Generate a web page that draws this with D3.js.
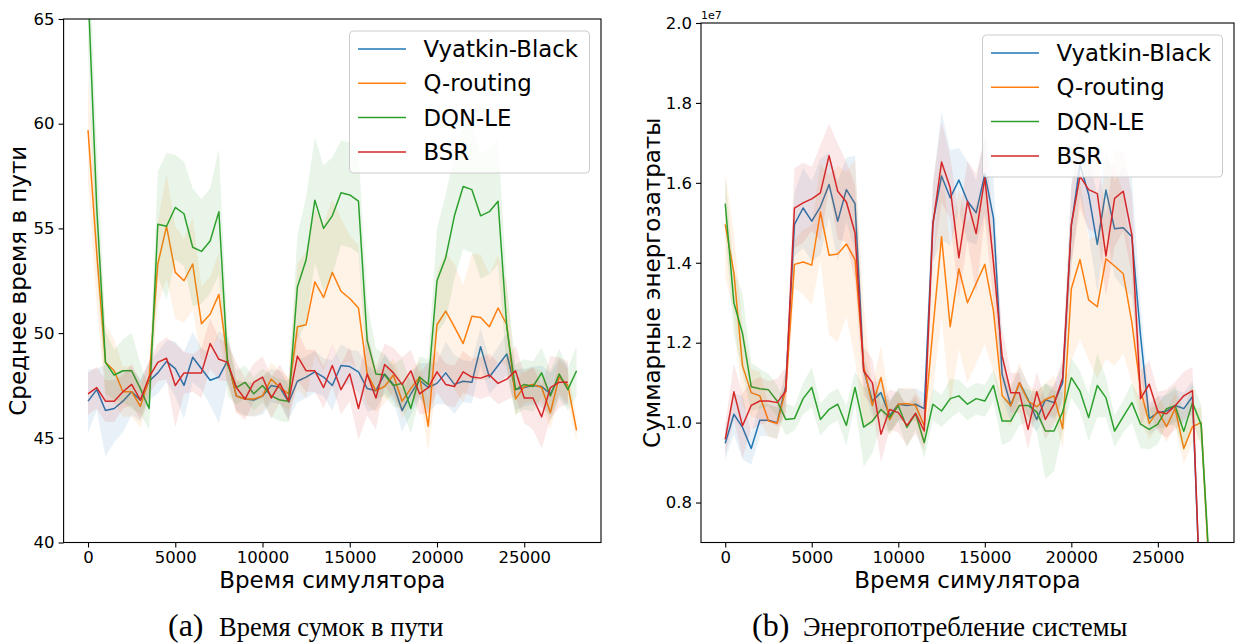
<!DOCTYPE html>
<html>
<head>
<meta charset="utf-8">
<script src="https://cdn.jsdelivr.net/npm/d3@7"></script>
<style>
  body { margin: 0; background: #fff; }
  text { font-family: "DejaVu Sans", sans-serif; }
</style>
</head>
<body>
<div id="chart"></div>
<script>

// simulator time (x values)
var simTime = [0,500,1000,1500,2000,2500,3000,3500,4000,4500,5000,5500,6000,6500,7000,7500,8000,8500,9000,9500,
  10000,10500,11000,11500,12000,12500,13000,13500,14000,14500,15000,15500,16000,16500,17000,17500,18000,18500,19000,19500,
  20000,20500,21000,21500,22000,22500,23000,23500,24000,24500,25000,25500,26000,26500,27000,27500,28000];

var names = ["Vyatkin-Black", "Q-routing", "DQN-LE", "BSR"];
var colors = ["#1f77b4", "#ff7f0e", "#2ca02c", "#d62728"];

var xTicks = [0, 5000, 10000, 15000, 20000, 25000];
var yTicksA = [40, 45, 50, 55, 60, 65];
var yTicksB = [0.8, 1.0, 1.2, 1.4, 1.6, 1.8, 2.0];

// (a) mean time in path
var blueA = [46.75,47.3,46.3,46.4,46.75,47.2,46.8,47.7,48.1,48.65,48.3,47.5,48.85,48.3,47.75,47.9,48.7,47.0,46.85,46.8,
  47.0,47.5,47.4,46.7,47.7,47.9,48.15,47.9,47.5,48.45,48.4,48.15,47.35,47.25,48.05,47.55,46.3,47.1,47.75,47.4,
  47.6,48.1,47.55,47.7,47.65,49.35,47.9,48.45,49.0,47.3,47.4,47.5,47.45,47.1,47.9,47.5];
var orangeA = [59.7,53.8,48.6,48.2,47.2,47.2,46.5,47.8,53.3,55.1,52.9,52.5,53.3,50.45,50.9,51.85,48.7,47.0,46.85,46.85,
  47.0,47.8,47.4,47.1,50.3,50.4,52.45,51.7,52.9,52.0,51.65,51.2,48.05,47.25,47.45,48.0,46.75,47.35,47.9,45.55,
  50.4,51.05,50.3,49.5,50.8,50.75,50.3,51.2,50.4,46.85,47.45,47.55,47.4,46.2,47.9,47.5,45.35];
var greenA = [66.5,56.0,48.6,48.0,48.2,48.2,47.35,46.4,55.2,55.1,56.0,55.7,54.1,53.9,54.4,55.8,48.5,47.4,47.65,47.1,
  47.5,47.0,46.8,46.75,52.2,53.5,56.35,55.0,55.6,56.7,56.6,56.3,49.65,48.05,48.0,47.5,47.6,46.4,47.9,47.55,
  52.5,53.6,55.6,57.0,56.85,55.6,55.8,56.3,50.3,47.3,47.55,47.45,48.1,47.0,48.05,47.3,48.2];
var redA = [47.1,47.4,46.75,46.75,47.2,47.55,46.8,47.9,48.6,48.8,47.5,48.1,48.1,48.1,49.5,48.75,48.6,47.4,46.85,47.65,
  47.9,46.9,47.6,46.75,48.9,48.2,48.2,47.4,48.45,47.3,48.05,46.4,48.05,46.9,48.5,48.1,47.55,48.2,47.1,47.4,
  48.15,47.55,47.45,48.15,47.9,47.85,48.0,47.6,47.8,48.2,46.9,46.9,46.0,47.4,47.65,47.65];

// (a) spread of the runs
var blueSdA = [1.5,1.0,2.2,1.6,1.5,1.1,1.0,0.9,1.0,1.0,1.3,1.6,1.2,1.0,1.2,2.2,1.1,0.7,0.8,0.8,
  0.9,0.8,0.8,0.8,1.0,1.0,1.0,0.9,1.2,1.0,0.8,1.0,1.1,0.9,0.9,0.8,1.0,1.0,0.8,1.2,
  1.0,1.5,1.4,1.0,1.0,0.9,0.8,0.9,1.0,1.0,0.9,0.9,1.0,1.0,0.9,1.0];
var orangeSdA = [2.5,2.5,1.8,1.5,1.2,1.2,1.0,0.8,2.0,2.5,2.2,2.0,2.2,1.8,1.8,2.0,1.2,0.8,0.8,0.8,
  0.8,0.8,0.8,0.8,3.0,3.5,3.5,3.5,3.5,3.5,3.0,3.0,1.5,1.0,0.8,0.8,0.8,0.8,0.8,1.2,
  2.5,2.8,3.0,2.8,3.0,3.0,2.5,2.5,2.0,0.8,0.8,0.8,0.8,0.8,0.8,0.8,0.5];
var greenSdA = [3.0,3.0,1.5,1.2,1.5,1.8,1.2,1.0,2.5,3.5,2.5,2.5,2.8,2.5,2.5,3.0,1.5,0.8,0.8,0.8,
  0.8,1.0,1.0,1.0,2.5,3.0,3.0,3.0,2.8,2.5,2.5,2.5,1.8,1.2,1.0,1.0,1.2,1.2,1.0,1.2,
  2.5,3.0,3.0,3.0,3.0,3.0,3.0,3.0,2.0,1.2,1.2,1.2,1.2,1.2,1.2,1.0,1.2];
var redSdA = [1.0,1.0,1.0,1.0,0.8,1.0,0.9,0.8,0.9,1.0,2.0,1.0,0.9,1.2,1.2,1.0,0.9,1.2,1.0,0.9,
  1.0,1.0,0.9,1.0,1.2,1.0,1.0,1.0,1.0,1.2,1.3,1.5,2.0,1.5,1.0,1.2,1.3,1.0,1.0,1.2,
  1.0,1.0,1.0,1.0,0.9,1.0,1.0,1.0,1.0,1.2,1.2,1.5,1.5,1.5,1.2,1.0];

// (b) total energy, x 1e7
var blueB = [0.948,1.021,0.988,0.935,1.006,1.006,1.0,1.092,1.496,1.537,1.504,1.54,1.596,1.504,1.583,1.548,1.133,1.054,1.075,1.017,
  1.046,1.043,1.046,1.035,1.5,1.617,1.5625,1.607,1.554,1.525,1.622,1.5125,1.121,1.043,1.1,1.058,1.008,1.057,1.05,1.1,
  1.492,1.646,1.571,1.446,1.582,1.485,1.4875,1.465,1.217,1.01,1.025,1.029,1.043,1.035,1.065,0.5];
var orangeB = [1.496,1.375,1.142,1.075,1.067,1.004,0.998,1.083,1.396,1.402,1.394,1.527,1.419,1.422,1.447,1.408,1.142,1.043,1.113,1.007,
  1.046,1.048,1.043,0.992,1.233,1.465,1.24,1.385,1.3,1.348,1.396,1.279,1.068,1.042,1.1,1.054,1.04,1.058,1.067,0.985,
  1.335,1.408,1.307,1.29,1.41,1.392,1.3725,1.25,1.083,0.998,1.03,0.99,1.035,0.935,0.99,1.0,0.6];
var greenB = [1.548,1.3,1.223,1.09,1.085,1.082,1.054,1.008,1.01,1.06,1.088,1.008,1.033,1.046,0.993,1.088,0.989,1.004,1.033,1.013,
  1.042,0.988,1.023,0.95,1.046,1.029,1.06,1.067,1.046,1.06,1.054,1.093,1.004,1.004,1.043,1.043,1.027,0.979,0.979,1.027,
  1.1125,1.079,1.0125,1.093,1.0625,0.979,1.015,1.05,0.996,0.983,0.996,1.035,1.042,0.978,1.05,0.995,0.62];
var redB = [0.958,1.077,0.992,1.043,1.054,1.054,1.05,1.079,1.537,1.55,1.56,1.575,1.668,1.579,1.552,1.475,1.129,1.1,0.971,1.033,
  1.025,0.993,1.023,0.979,1.496,1.652,1.5875,1.4125,1.554,1.473,1.6125,1.4,1.167,1.075,1.075,0.983,1.077,1.008,1.046,1.1125,
  1.496,1.617,1.583,1.573,1.417,1.561,1.579,1.47,1.06,1.096,1.027,1.022,1.042,1.067,1.08,0.5];

var blueSdB = [0.04,0.05,0.08,0.04,0.04,0.04,0.04,0.04,0.08,0.1,0.1,0.12,0.08,0.1,0.08,0.12,0.04,0.04,0.04,0.04,
  0.04,0.04,0.04,0.04,0.1,0.16,0.12,0.08,0.1,0.08,0.1,0.1,0.06,0.04,0.04,0.04,0.03,0.04,0.04,0.05,
  0.1,0.08,0.1,0.12,0.1,0.12,0.15,0.15,0.08,0.04,0.04,0.04,0.04,0.04,0.04,0.05];
var orangeSdB = [0.13,0.1,0.1,0.06,0.06,0.04,0.04,0.05,0.06,0.08,0.1,0.12,0.2,0.22,0.18,0.25,0.15,0.05,0.08,0.04,
  0.04,0.04,0.04,0.05,0.15,0.2,0.2,0.2,0.2,0.2,0.2,0.15,0.06,0.05,0.05,0.04,0.04,0.04,0.05,0.05,
  0.18,0.2,0.15,0.18,0.25,0.25,0.2,0.15,0.08,0.04,0.04,0.04,0.04,0.04,0.04,0.04,0.04];
var greenSdB = [0.07,0.08,0.1,0.06,0.05,0.04,0.04,0.04,0.03,0.04,0.05,0.04,0.04,0.04,0.05,0.04,0.1,0.08,0.04,0.04,
  0.04,0.05,0.04,0.04,0.04,0.04,0.05,0.04,0.04,0.04,0.04,0.04,0.06,0.05,0.05,0.04,0.05,0.12,0.1,0.05,
  0.05,0.05,0.06,0.08,0.05,0.04,0.04,0.05,0.06,0.05,0.05,0.04,0.05,0.05,0.05,0.05,0.05];
var redSdB = [0.04,0.07,0.08,0.06,0.06,0.05,0.06,0.06,0.1,0.1,0.08,0.12,0.08,0.12,0.1,0.12,0.06,0.06,0.07,0.05,
  0.05,0.05,0.05,0.05,0.1,0.1,0.08,0.1,0.1,0.15,0.1,0.1,0.07,0.05,0.05,0.05,0.05,0.05,0.05,0.05,
  0.1,0.08,0.1,0.1,0.1,0.12,0.1,0.1,0.07,0.06,0.05,0.06,0.06,0.06,0.06,0.05];

var svg = d3.select("#chart")
  .append("svg")
    .attr("width", 1237)
    .attr("height", 644);

function drawPanel(p) {
  var x = d3.scaleLinear()
    .domain([-1400, 29400])
    .range([p.left, p.right]);
  var y = d3.scaleLinear()
    .domain(p.yDomain)
    .range([p.bottom, p.top]);

  // clip the curves to the axes box
  svg.append("clipPath")
    .attr("id", p.id)
    .append("rect")
      .attr("x", p.left)
      .attr("y", p.top)
      .attr("width", p.right - p.left)
      .attr("height", p.bottom - p.top);

  var plot = svg.append("g").attr("clip-path", "url(#" + p.id + ")");

  p.means.forEach(function(m, k) {
    var sd = p.spreads[k];
    var pts = m.map(function(v, i) { return {t: simTime[i], v: v, s: sd[i] || 0}; });

    plot.append("path")
      .datum(pts)
      .attr("fill", colors[k])
      .attr("fill-opacity", 0.1)
      .attr("d", d3.area()
        .x(function(d) { return x(d.t); })
        .y0(function(d) { return y(d.v - d.s); })
        .y1(function(d) { return y(d.v + d.s); }));

    plot.append("path")
      .datum(pts)
      .attr("fill", "none")
      .attr("stroke", colors[k])
      .attr("stroke-width", 1.5)
      .attr("stroke-linejoin", "round")
      .attr("d", d3.line()
        .x(function(d) { return x(d.t); })
        .y(function(d) { return y(d.v); }));
  });

  // axes
  var gx = svg.append("g")
    .attr("transform", "translate(0," + p.bottom + ")")
    .call(d3.axisBottom(x).tickValues(xTicks).tickSize(5).tickPadding(4).tickFormat(d3.format("d")));
  var gy = svg.append("g")
    .attr("transform", "translate(" + p.left + ",0)")
    .call(d3.axisLeft(y).tickValues(p.yTicks).tickSize(5).tickPadding(4).tickFormat(p.fmt));
  [gx, gy].forEach(function(g) {
    g.select(".domain").remove();
    g.attr("font-size", 16.5).attr("font-family", "DejaVu Sans");
    g.selectAll("line").attr("stroke", "#000").attr("stroke-width", 1.1);
    g.selectAll("text").attr("fill", "#000");
  });

  // frame
  svg.append("rect")
    .attr("x", p.left)
    .attr("y", p.top)
    .attr("width", p.right - p.left)
    .attr("height", p.bottom - p.top)
    .attr("fill", "none")
    .attr("stroke", "#000")
    .attr("stroke-width", 1.1);

  // axis labels
  svg.append("text")
    .attr("x", (p.left + p.right) / 2)
    .attr("y", 588)
    .attr("text-anchor", "middle")
    .attr("font-size", 23)
    .text("Время симулятора");
  svg.append("text")
    .attr("transform", "translate(" + p.ylabelX + "," + ((p.top + p.bottom) / 2) + ")rotate(-90)")
    .attr("text-anchor", "middle")
    .attr("dy", "0.35em")
    .attr("font-size", 23)
    .text(p.ylabel);

  if (p.offset) {
    svg.append("text")
      .attr("x", p.left)
      .attr("y", p.top - 4)
      .attr("font-size", 11)
      .text(p.offset);
  }

  // legend
  var lw = 240, lh = 142;
  var lx = p.right - 11.5 - lw, ly = p.top + 12;
  var leg = svg.append("g");
  leg.append("rect")
    .attr("x", lx)
    .attr("y", ly)
    .attr("width", lw)
    .attr("height", lh)
    .attr("rx", 4)
    .attr("fill", "#fff")
    .attr("fill-opacity", 0.8)
    .attr("stroke", "#cccccc")
    .attr("stroke-width", 1);
  names.forEach(function(n, k) {
    var cy = ly + 18 + k * 34.3;
    leg.append("line")
      .attr("x1", lx + 8.5)
      .attr("x2", lx + 56.5)
      .attr("y1", cy)
      .attr("y2", cy)
      .attr("stroke", colors[k])
      .attr("stroke-width", 1.5);
    leg.append("text")
      .attr("x", lx + 74)
      .attr("y", cy)
      .attr("dy", "0.35em")
      .attr("font-size", 22.8)
      .text(n);
  });

  // caption under the panel
  svg.append("text")
    .attr("x", p.capX)
    .attr("y", 636)
    .attr("font-family", "Liberation Serif")
    .attr("font-size", 32)
    .style("font-family", "Liberation Serif, serif")
    .text(p.capTag);
  svg.append("text")
    .attr("x", p.capX + 51)
    .attr("y", 636)
    .attr("font-size", 26.5)
    .style("font-family", "Liberation Serif, serif")
    .text(p.caption);
}

drawPanel({
  id: "clipA", left: 63.6, right: 601, top: 19, bottom: 542.5,
  yDomain: [40, 65], yTicks: yTicksA, fmt: d3.format("d"),
  means: [blueA, orangeA, greenA, redA],
  spreads: [blueSdA, orangeSdA, greenSdA, redSdA],
  ylabel: "Среднее время в пути", ylabelX: 18,
  capX: 168, capTag: "(a)", caption: "Время сумок в пути"
});

drawPanel({
  id: "clipB", left: 701, right: 1234, top: 23, bottom: 542.5,
  yDomain: [0.7, 2.0], yTicks: yTicksB, fmt: d3.format(".1f"),
  means: [blueB, orangeB, greenB, redB],
  spreads: [blueSdB, orangeSdB, greenSdB, redSdB],
  ylabel: "Суммарные энергозатраты", ylabelX: 652, offset: "1e7",
  capX: 752, capTag: "(b)", caption: "Энергопотребление системы"
});

</script>
</body>
</html>
